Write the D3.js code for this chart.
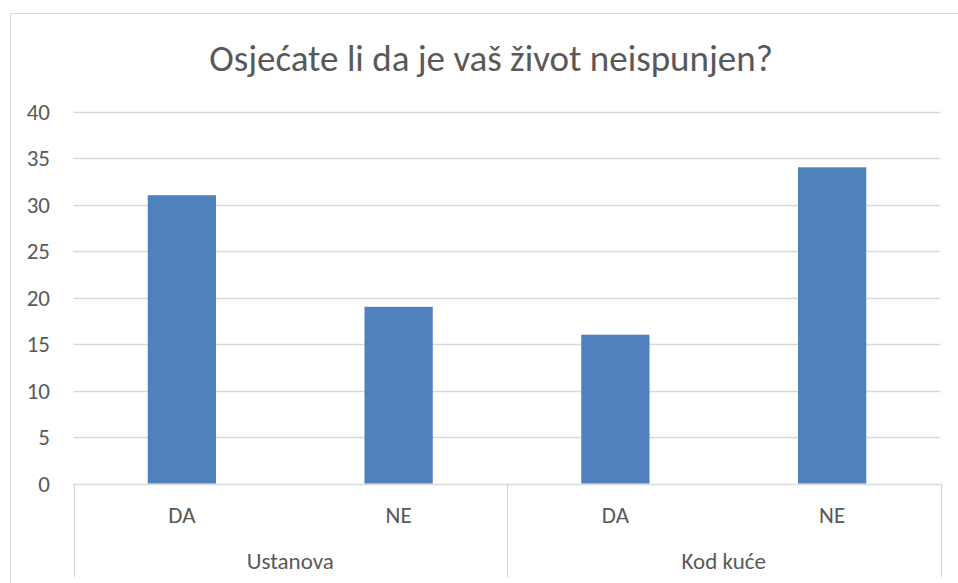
<!DOCTYPE html>
<html>
<head>
<meta charset="utf-8">
<script src="https://cdn.jsdelivr.net/npm/d3@7"></script>
<style>
  body { margin: 0; background: #fff; }
  text { font-family: Calibri, Carlito, "Open Sans", sans-serif; fill: #595959; }
</style>
</head>
<body>
<div id="chart"></div>
<script>
// chart data
var title = "Osjećate li da je vaš život neispunjen?";
var groups = ["Ustanova", "Kod kuće"];
var answers = ["DA", "NE"];
var values = [31, 19, 16, 34];
var yTicks = [0, 5, 10, 15, 20, 25, 30, 35, 40];

var width = 958, height = 583;
var plot = { left: 73.5, right: 940.5, top: 111.5, bottom: 483.5 };

var svg = d3.select("#chart")
  .append("svg")
  .attr("width", width)
  .attr("height", height);

// outer chart border (right/bottom fall off the picture)
svg.append("rect")
  .attr("x", 10.5)
  .attr("y", 13.5)
  .attr("width", 970)
  .attr("height", 600)
  .style("fill", "none")
  .style("stroke", "#d9d9d9");

svg.append("text")
  .attr("x", 491)
  .attr("y", 71)
  .attr("text-anchor", "middle")
  .style("font-size", "37px")
  .text(title);

// one band per bar: group x answer
var cats = [];
groups.forEach(g => answers.forEach(a => cats.push({ group: g, answer: a })));
cats.forEach((c, i) => c.value = values[i]);

var x = d3.scaleBand()
  .domain(d3.range(cats.length))
  .range([plot.left, plot.right])
  .padding(0);

var y = d3.scaleLinear()
  .domain([0, 40])
  .range([plot.bottom, plot.top]);

// gridlines
svg.append("g")
  .selectAll("line")
  .data(yTicks)
  .join("line")
  .attr("x1", plot.left)
  .attr("x2", plot.right)
  .attr("y1", d => Math.round(y(d)) + 0.5)
  .attr("y2", d => Math.round(y(d)) + 0.5)
  .style("stroke", "#d9d9d9")
  .style("stroke-width", 1.3);

// y labels
svg.append("g")
  .selectAll("text")
  .data(yTicks)
  .join("text")
  .attr("x", 50)
  .attr("y", d => y(d))
  .attr("dy", "0.35em")
  .attr("text-anchor", "end")
  .style("font-size", "23px")
  .text(d => d);

// bars
var barW = x.bandwidth() * 0.315;
svg.append("g")
  .selectAll("rect")
  .data(cats)
  .join("rect")
  .attr("x", (d, i) => x(i) + (x.bandwidth() - barW) / 2)
  .attr("y", d => y(d.value))
  .attr("width", barW)
  .attr("height", d => y(0) - y(d.value))
  .style("fill", "#4f81bd");

// category labels
svg.append("g")
  .selectAll("text")
  .data(cats)
  .join("text")
  .attr("x", (d, i) => x(i) + x.bandwidth() / 2)
  .attr("y", 523)
  .attr("text-anchor", "middle")
  .style("font-size", "23px")
  .text(d => d.answer);

// group labels and separators
var groupW = x.bandwidth() * answers.length;
svg.append("g")
  .selectAll("text")
  .data(groups)
  .join("text")
  .attr("x", (d, i) => plot.left + groupW * i + groupW / 2)
  .attr("y", 569)
  .attr("text-anchor", "middle")
  .style("font-size", "23px")
  .text(d => d);

svg.append("g")
  .selectAll("line")
  .data(d3.range(groups.length + 1))
  .join("line")
  .attr("x1", i => Math.round(plot.left + groupW * i) + 0.5)
  .attr("x2", i => Math.round(plot.left + groupW * i) + 0.5)
  .attr("y1", plot.bottom)
  .attr("y2", 577)
  .style("stroke", "#d9d9d9")
  .style("stroke-width", 1.3);
</script>
</body>
</html>
